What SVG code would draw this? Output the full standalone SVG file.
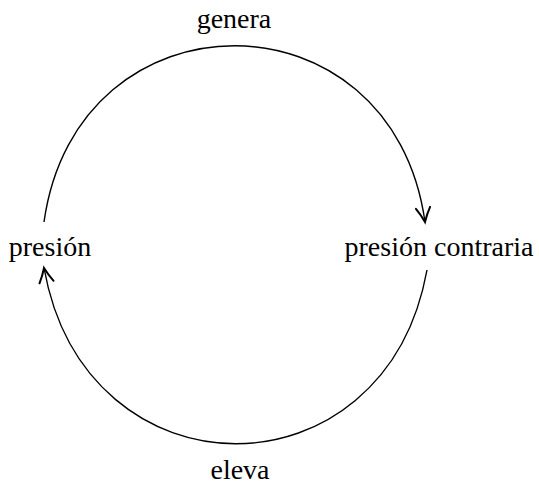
<svg xmlns="http://www.w3.org/2000/svg" width="539" height="486" viewBox="0 0 539 486">
  <style>
    .lbl { font-family: "Liberation Serif", "Times New Roman", serif; font-size: 28px; fill: #000; }
    .edge { fill: none; stroke: #000; stroke-width: 1.4; }
  </style>
  <defs>
    <marker id="arr" markerUnits="userSpaceOnUse" markerWidth="20" markerHeight="20" viewBox="-12 -7 14 14" refX="0" refY="0" orient="auto">
      <path d="M-10,-5 C-6,-2.5 -2,-0.8 0,0 C-2,0.8 -6,2.5 -10,5" fill="none" stroke="#000" stroke-width="1.4" stroke-linecap="round"/>
    </marker>
  </defs>
  <rect width="539" height="486" fill="#fff"/>
  <g id="connectors">
    <path id="e-genera" class="edge" d="M44,222 C77,-13 392,-13 425,222" marker-end="url(#arr)"/>
    <path id="e-eleva" class="edge" d="M427,270 C385,502 86,502 44,268" marker-end="url(#arr)"/>
    <text class="lbl" x="234" y="28" text-anchor="middle">genera</text>
    <text class="lbl" x="240" y="479" text-anchor="middle">eleva</text>
  </g>
  <g id="node-presion">
    <text class="lbl" x="50" y="256" text-anchor="middle">presión</text>
  </g>
  <g id="node-presion-contraria">
    <text class="lbl" x="439" y="256" text-anchor="middle">presión contraria</text>
  </g>
</svg>
